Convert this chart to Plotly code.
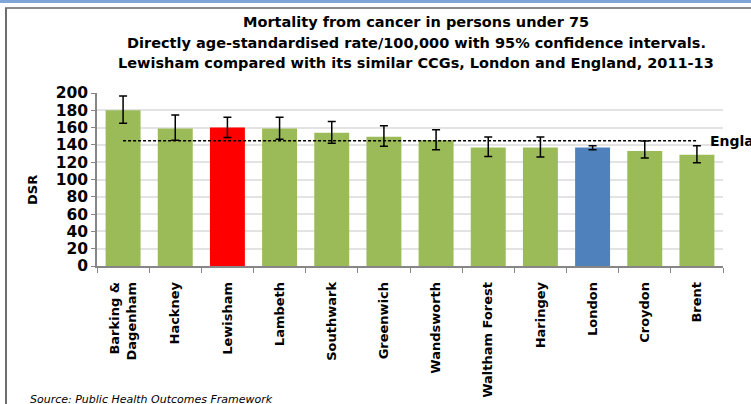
import plotly.graph_objects as go

categories = ["Barking &<br>Dagenham", "Hackney", "Lewisham", "Lambeth", "Southwark",
              "Greenwich", "Wandsworth", "Waltham Forest", "Haringey", "London",
              "Croydon", "Brent"]
dsr = [180, 159, 160, 159, 154, 149.5, 145.5, 137, 137, 137, 133, 128.5]
ci_upper = [196.5, 174.5, 172, 172, 167, 162, 157.5, 149, 149, 139, 144.5, 139]
ci_lower = [165, 145.5, 148.5, 146.5, 142, 138.5, 134.5, 126.5, 126, 134.5, 125, 119.5]
england = 144.8
bar_colors = ["#9BBB59", "#9BBB59", "#FF0000", "#9BBB59", "#9BBB59", "#9BBB59",
              "#9BBB59", "#9BBB59", "#9BBB59", "#4F81BD", "#9BBB59", "#9BBB59"]
y_ticks = [0, 20, 40, 60, 80, 100, 120, 140, 160, 180, 200]

W, H = 751, 404
L, R, T, B = 97, 28, 93, 138
pw, ph = W - L - R, H - T - B


def px(x):
    return (x - L) / pw


def py(y):
    return (H - B - y) / ph


fig = go.Figure()
fig.add_trace(go.Bar(
    x=categories, y=dsr, marker=dict(color=bar_colors, line=dict(width=0)),
    width=0.67,
    error_y=dict(type="data", symmetric=False,
                 array=[u - v for u, v in zip(ci_upper, dsr)],
                 arrayminus=[v - l for v, l in zip(dsr, ci_lower)],
                 color="#000000", thickness=1.5, width=4),
    showlegend=False, hoverinfo="skip",
))
fig.add_trace(go.Scatter(
    x=categories, y=[england] * len(categories), mode="lines",
    line=dict(color="#000000", width=1.5, dash="3px,2px"), showlegend=False,
    hoverinfo="skip",
))

title_lines = ["Mortality from cancer in persons under 75",
               "Directly age-standardised rate/100,000 with 95% confidence intervals.",
               "Lewisham compared with its similar CCGs, London and England, 2011-13"]
for line, yc in zip(title_lines, [22, 43, 63]):
    fig.add_annotation(
        text=f"<b>{line}</b>", xref="paper", yref="paper",
        x=px(416), y=py(yc), xanchor="center", yanchor="middle", showarrow=False,
        font=dict(family="DejaVu Sans", size=14.5, color="#000000"),
    )
fig.add_annotation(
    text="<b>England</b>", xref="paper", yref="y", x=px(708), y=england,
    xanchor="left", yanchor="middle", showarrow=False,
    font=dict(family="DejaVu Sans", size=14, color="#000000"),
)
fig.add_annotation(
    text="<b>DSR</b>", xref="paper", yref="paper", x=px(32), y=py(190),
    textangle=-90, showarrow=False, xanchor="center", yanchor="middle",
    font=dict(family="DejaVu Sans", size=13, color="#000000"),
)
fig.add_annotation(
    text="<i>Source: Public Health Outcomes Framework</i>", xref="paper", yref="paper",
    x=px(28), y=py(399), xanchor="left", yanchor="middle", showarrow=False,
    font=dict(family="DejaVu Sans", size=11, color="#000000"),
)

# window frame
fig.add_shape(type="rect", xref="paper", yref="paper", x0=px(0), x1=px(W), y0=py(0), y1=py(3),
              fillcolor="#7FA6D8", line=dict(width=0), layer="above")
fig.add_shape(type="line", xref="paper", yref="paper", x0=px(5), x1=px(W), y0=py(8), y1=py(8),
              line=dict(color="#8C8C8C", width=2))
fig.add_shape(type="line", xref="paper", yref="paper", x0=px(6), x1=px(6), y0=py(8), y1=py(H),
              line=dict(color="#6E6E6E", width=2))

fig.update_layout(
    width=W, height=H, margin=dict(l=L, r=R, t=T, b=B, autoexpand=False),
    paper_bgcolor="#FFFFFF", plot_bgcolor="#FFFFFF", bargap=0.33,
    font=dict(family="DejaVu Sans", color="#000000"), hovermode=False,
)
fig.update_xaxes(
    tickangle=-90, tickfont=dict(family="DejaVu Sans", size=13, color="#000000"),
    ticktext=[f"<b>{c}</b>" for c in categories], tickvals=categories,
    showline=True, linecolor="#868686", linewidth=1.5, ticks="outside",
    tickson="boundaries", ticklen=5, tickcolor="#868686", showgrid=False,
    range=[-0.5, len(categories) - 0.5], ticklabelstandoff=9, automargin=False,
)
fig.update_yaxes(
    range=[0, 200], tickvals=y_ticks, ticktext=[f"<b>{v}</b>" for v in y_ticks],
    tickfont=dict(family="DejaVu Sans", size=15.5, color="#000000"),
    showgrid=True, gridcolor="#E3E3E3", gridwidth=1.5,
    showline=True, linecolor="#868686", linewidth=1.5, ticks="outside", ticklen=4,
    tickcolor="#868686", zeroline=False, automargin=False,
)
fig.write_html("out.html", config={"displayModeBar": False},
               post_script="document.body.style.margin='0';")
